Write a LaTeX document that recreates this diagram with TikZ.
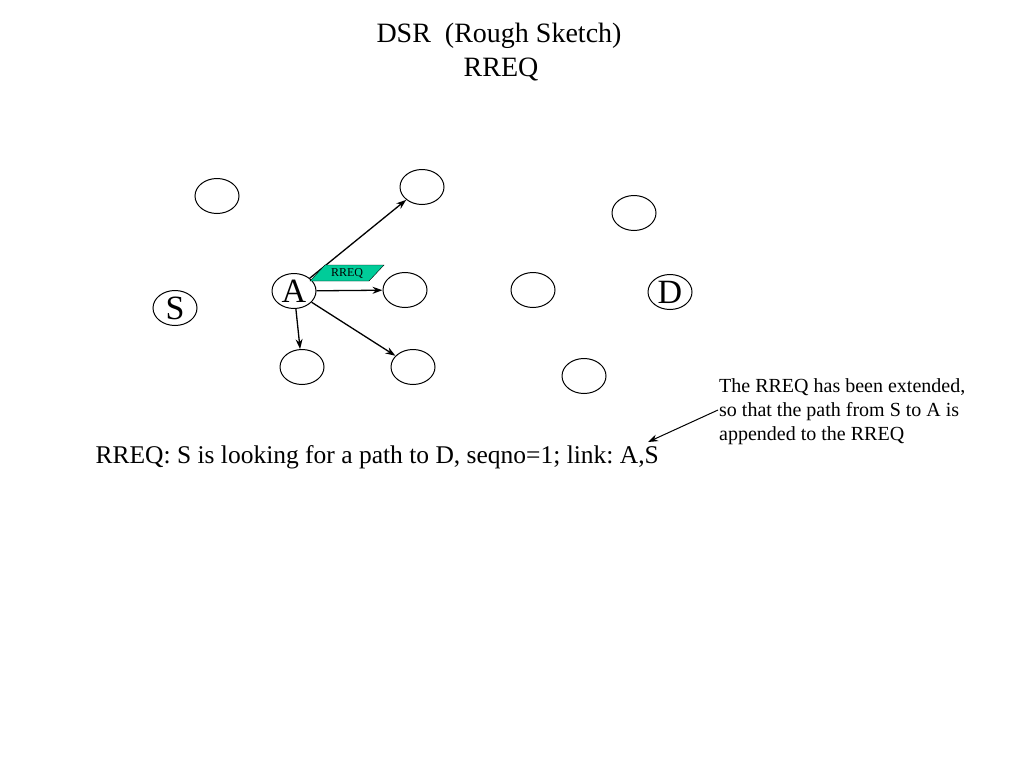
\documentclass[tikz,border=0pt]{standalone}
\usepackage{fontspec}
\setmainfont{Liberation Serif}
\usetikzlibrary{shapes.geometric,arrows.meta}
\frenchspacing

\tikzset{
  host/.style={draw, ellipse, line width=1pt, minimum width=44pt, minimum height=35pt, inner sep=0pt, font=\fontsize{34}{34}\selectfont},
  hop/.style={-{Stealth[length=10pt,width=7pt]}, line width=1.3pt}
}

\begin{document}
\begin{tikzpicture}[x=1pt,y=-1pt]

\useasboundingbox (0,0) rectangle (1024,768);

\node[font=\fontsize{28}{28}\selectfont] (Title) at (499,36) {DSR\ \ (Rough Sketch)};
\node[font=\fontsize{28}{28}\selectfont] (Sub) at (501,70) {RREQ};

\node[host] (N1) at (217,196) {};
\node[host] (N2) at (422,187) {};
\node[host] (N3) at (634,213) {};
\node[host] (S) at (175,308) {S};
\node[host] (A) at (294,291) {A};
\node[host] (N4) at (405,290) {};
\node[host] (N5) at (533,290) {};
\node[host] (D) at (670,292) {D};
\node[host] (N6) at (302,367) {};
\node[host] (N7) at (413,367) {};
\node[host] (N8) at (584,376) {};

\draw[hop] (A) -- (N2);
\draw[hop] (A) -- (N4);
\draw[hop] (A) -- (N6);
\draw[hop] (A) -- (N7);

\draw[fill={rgb,255:red,0;green,204;blue,153}] (310,281) -- (325,265) -- (384,265) -- (369,281) -- cycle;
\node[font=\fontsize{12}{12}\selectfont] (Tag) at (347,273) {RREQ};

\node[anchor=west, font=\fontsize{25.5}{25.5}\selectfont] (Msg) at (92,457) {RREQ: S is looking for a path to D, seqno=1; link: A,S};

\node[anchor=north west, align=left, inner sep=0pt, font=\fontsize{20}{24}\selectfont] (Note) at (719,378) {The RREQ has been extended,\\ so that the path from S to A is\\ appended to the RREQ};
\coordinate (Tip) at (648,442);
\draw[hop, line width=1pt] (718,410) -- (Tip);

\end{tikzpicture}
\end{document}
